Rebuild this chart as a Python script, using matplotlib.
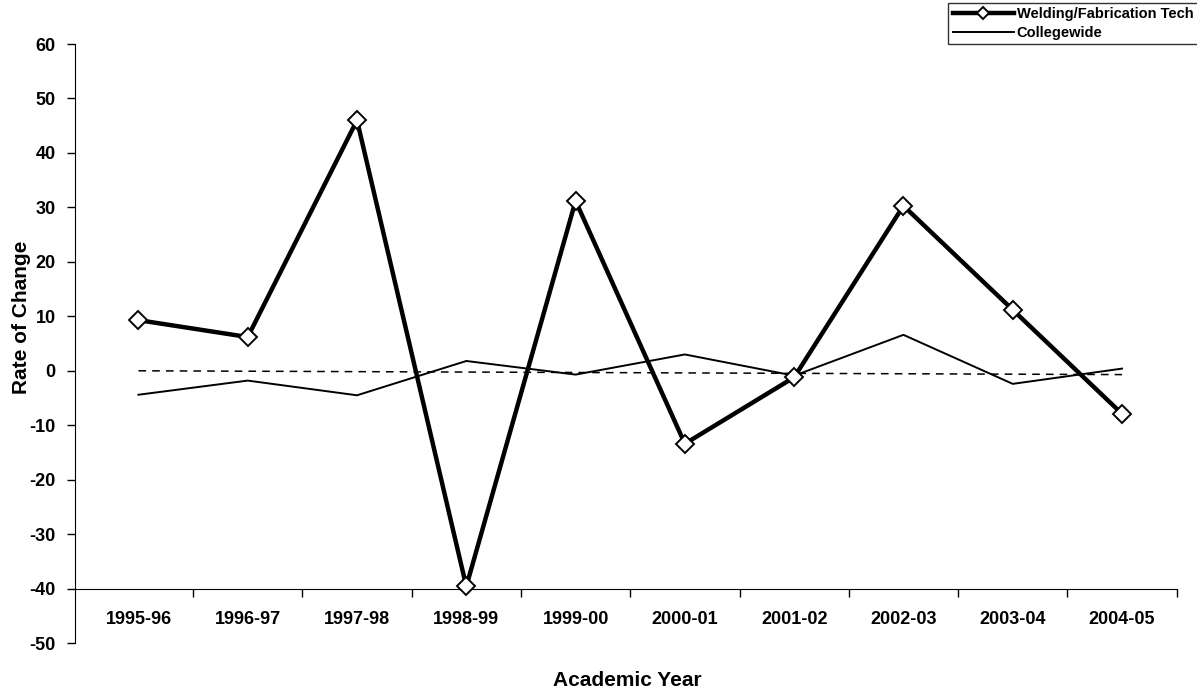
import matplotlib.pyplot as plt
import numpy as np

plt.rcParams['font.family'] = ['Liberation Sans', 'DejaVu Sans']
plt.rcParams['font.weight'] = 'bold'
plt.rcParams['axes.unicode_minus'] = False

years = ['1995-96', '1996-97', '1997-98', '1998-99', '1999-00',
         '2000-01', '2001-02', '2002-03', '2003-04', '2004-05']
welding = [9.3, 6.2, 46.0, -39.6, 31.2, -13.4, -1.2, 30.3, 11.2, -7.9]
collegewide = [-4.4, -1.8, -4.5, 1.8, -0.7, 3.0, -0.9, 6.6, -2.4, 0.4]
zero_ref = [0.0, -0.7]

x = np.arange(len(years))

fig = plt.figure(figsize=(11.97, 6.99), dpi=100)
ax = fig.add_axes([0.0627, 0.080, 0.9203, 0.857])

ax.plot([x[0], x[-1]], zero_ref, color='black', lw=1.1, ls=(0, (5, 4)))
ax.plot(x, collegewide, color='black', lw=1.4, label='Collegewide')
ax.plot(x, welding, color='black', lw=3.2, marker='D', markersize=9,
        markerfacecolor='white', markeredgecolor='black', markeredgewidth=1.4,
        label='Welding/Fabrication Tech', zorder=5)

ax.set_xlim(-0.58, 9.5)
ax.set_ylim(-50, 60)
ax.set_yticks(np.arange(-50, 61, 10))
ax.tick_params(axis='y', direction='out', length=6, width=1, labelsize=13, pad=8)

# category axis crosses at -40, ticks between categories
ax.spines['top'].set_visible(False)
ax.spines['right'].set_visible(False)
ax.spines['bottom'].set_position(('data', -40))
ax.set_xticks(np.arange(0.5, 9.6, 1.0))
ax.set_xticklabels([])
ax.tick_params(axis='x', which='major', direction='out', length=6, width=1)
ax.set_xticks(x, minor=True)
ax.set_xticklabels(years, minor=True)
ax.tick_params(axis='x', which='minor', length=0, labelsize=13, pad=16)

ax.set_ylabel('Rate of Change', fontsize=15, fontweight='bold')
ax.yaxis.set_label_coords(-0.04, 0.543)
fig.text(0.524, 0.027, 'Academic Year', ha='center', va='center',
         fontsize=15, fontweight='bold')

handles, labels = ax.get_legend_handles_labels()
leg = fig.legend(handles[::-1], labels[::-1], loc='upper right',
                 bbox_to_anchor=(1.003, 1.0), fontsize=10.5, frameon=True,
                 fancybox=False, edgecolor='black', handlelength=4.2,
                 handletextpad=0.2, borderpad=0.3, labelspacing=0.3,
                 borderaxespad=0.2)
leg.get_frame().set_linewidth(1.0)
for h in leg.legend_handles:
    if h.get_marker() == 'D':
        h.set_markersize(6)
        h.set_markerfacecolor('white')

fig.savefig('out.png', dpi=100)
